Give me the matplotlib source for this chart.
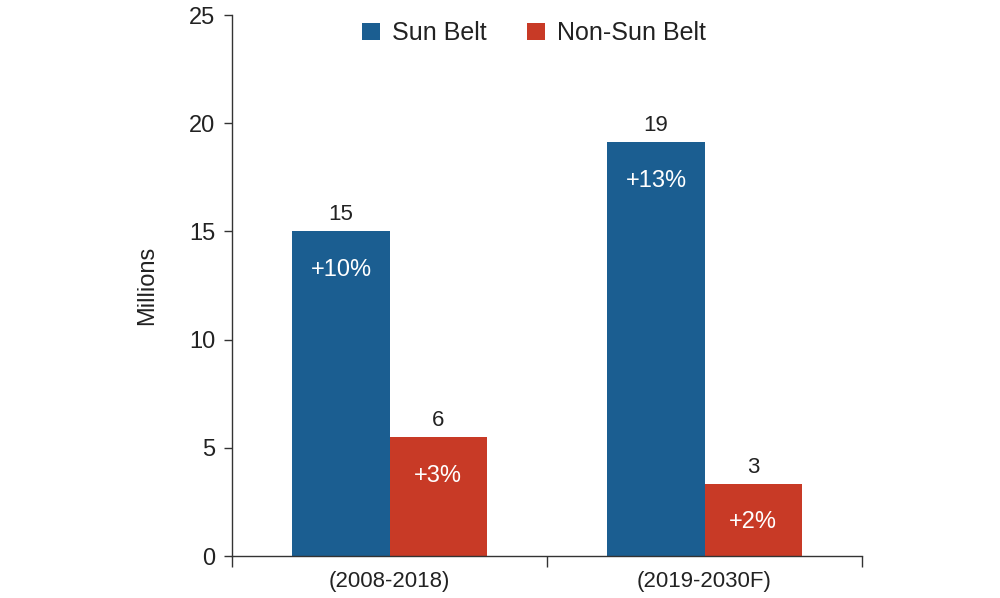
import matplotlib.pyplot as plt
import numpy as np

plt.rcParams['font.family'] = ['Liberation Sans', 'DejaVu Sans']

periods = ['(2008-2018)', '(2019-2030F)']
sun_belt = [15.02, 19.13]
non_sun_belt = [5.5, 3.35]
sun_labels = ['15', '19']
non_labels = ['6', '3']
sun_pct = ['+10%', '+13%']
non_pct = ['+3%', '+2%']

BLUE = '#1b5e91'
RED = '#c83a26'
AXIS = '#333333'

fig = plt.figure(figsize=(10, 5.98), dpi=100)
ax = fig.add_axes([0.232, 0.0702, 0.63, 0.9047])

x = np.arange(len(periods))
w = 0.308
b1 = ax.bar(x - w / 2, sun_belt, w, color=BLUE, label='Sun Belt')
b2 = ax.bar(x + w / 2, non_sun_belt, w, color=RED, label='Non-Sun Belt')

for bars, tops, inner in [(b1, sun_labels, sun_pct), (b2, non_labels, non_pct)]:
    for rect, t, p in zip(bars, tops, inner):
        cx = rect.get_x() + rect.get_width() / 2
        h = rect.get_height()
        ax.annotate(t, (cx, h), xytext=(0, 4), textcoords='offset points',
                    ha='center', va='bottom', fontsize=16, color='#222222')
        ax.annotate(p, (cx, h), xytext=(0, -28), textcoords='offset points',
                    ha='center', va='center', fontsize=17, color='white')

ax.set_xlim(-0.5, 1.5)
ax.set_ylim(0, 25)
ax.set_yticks([0, 5, 10, 15, 20, 25])
ax.set_xticks([-0.5, 0.5, 1.5])
ax.set_xticklabels([])
ax.set_xticks(x, minor=True)
ax.set_xticklabels(periods, minor=True)
ax.tick_params(axis='x', which='minor', length=0, labelsize=16, pad=11, colors='#222222')
ax.tick_params(axis='x', which='major', length=8, width=1, color=AXIS)
ax.tick_params(axis='y', length=6, width=1, color=AXIS, labelsize=17, labelcolor='#222222', pad=6)

for s in ['top', 'right']:
    ax.spines[s].set_visible(False)
for s in ['left', 'bottom']:
    ax.spines[s].set_color(AXIS)
    ax.spines[s].set_linewidth(1)

ax.set_ylabel('Millions', fontsize=17, color='#222222', labelpad=22)

ax.legend(loc='upper center', bbox_to_anchor=(0.479, 1.03), ncol=2, frameon=False,
          fontsize=18, handlelength=0.72, handleheight=0.72, columnspacing=1.6,
          handletextpad=0.5, labelcolor='#222222')

fig.savefig('out.png', dpi=100)
